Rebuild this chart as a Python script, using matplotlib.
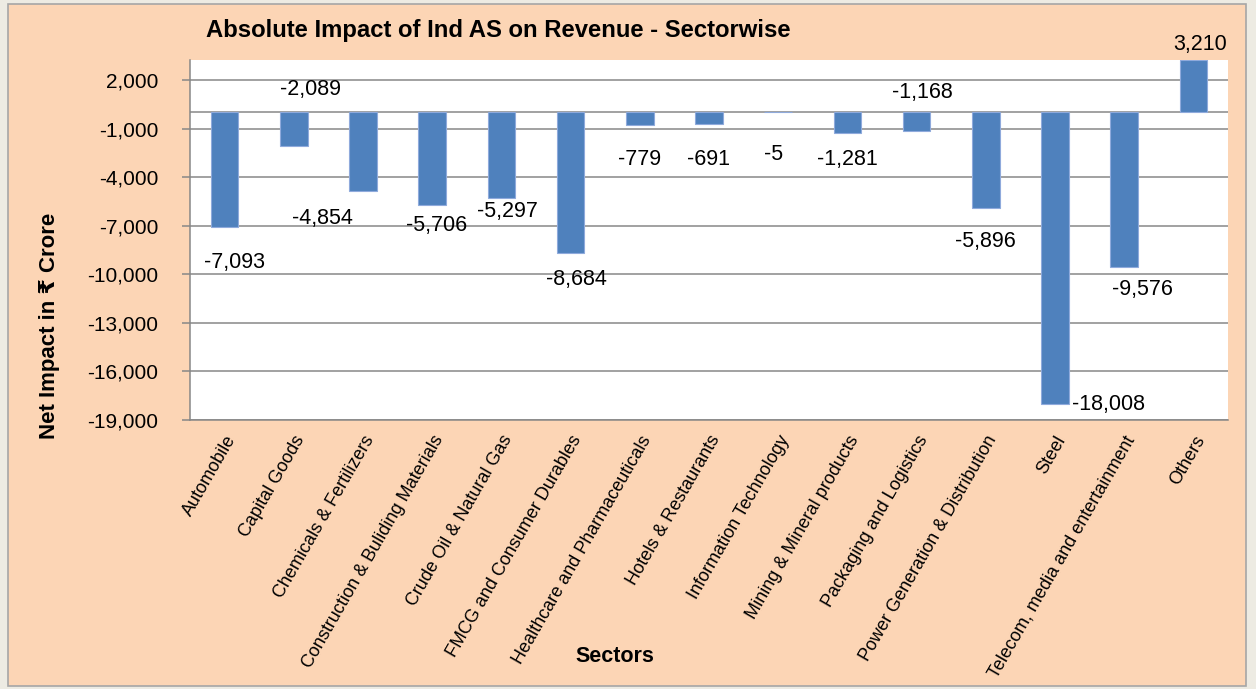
import numpy as np
import matplotlib
matplotlib.use("Agg")
import matplotlib.pyplot as plt
from matplotlib.patches import Rectangle
from matplotlib.ticker import FuncFormatter

plt.rcParams['font.family'] = ['Liberation Sans', 'DejaVu Sans']

sectors = ["Automobile", "Capital Goods", "Chemicals & Fertilizers",
           "Construction & Buliding Materials", "Crude Oil & Natural Gas",
           "FMCG and Consumer Durables", "Healthcare and Pharmaceuticals",
           "Hotels & Restaurants", "Information Technology",
           "Mining & Mineral products", "Packaging and Logistics",
           "Power Generation & Distribution", "Steel",
           "Telecom, media and entertainment", "Others"]
impact = [-7093, -2089, -4854, -5706, -5297, -8684, -779, -691, -5,
          -1281, -1168, -5896, -18008, -9576, 3210]

# data-label placement (style only): x offset in category units, y in value units
label_dx = [0.14, 0.24, -0.58, 0.06, 0.09, 0.09, 0.0, 0.0, -0.07, 0.0,
            0.09, 0.0, 0.77, 0.27, 0.1]
label_y = [-9265, 1420, -6548, -6980, -6115, -10315, -2903, -2903, -2594,
           -2903, 1235, -7968, -18036, -10933, 4200]

yticks = list(range(-19000, 2001, 3000))

W, H = 1256, 689
fig = plt.figure(figsize=(W / 100, H / 100), dpi=100)
fig.patch.set_facecolor('#EDEBE3')
fig.patches.append(Rectangle((8 / W, 3 / H), 1238 / W, 682 / H, transform=fig.transFigure,
                             facecolor='#FCD5B5', edgecolor='#A6A6A6', linewidth=1.2, zorder=-10))

ax = fig.add_axes([190 / W, 1 - 420 / H, 1038 / W, 360 / H])
ax.set_zorder(1)
ax.set_facecolor('white')
x = np.arange(len(sectors))
grid_c = '#878787'
for t in yticks:
    ax.axhline(t, color=grid_c, lw=1.1, zorder=1)
ax.axhline(0, color=grid_c, lw=1.1, zorder=1)
ax.bar(x, impact, width=0.4, color='#4F81BD', edgecolor='#8FAADC', linewidth=0.8, zorder=3)

ax.set_xlim(-0.5, len(sectors) - 0.5)
ax.set_ylim(-19000, 3235)
ax.set_yticks(yticks)
ax.yaxis.set_major_formatter(FuncFormatter(lambda v, p: f"{int(v):,}"))
ax.tick_params(axis='y', length=6, width=1.1, color=grid_c, pad=17, labelsize=15)
ax.set_xticks(x)
ax.set_xticklabels(sectors, rotation=60, ha='right', rotation_mode='anchor', fontsize=13)
ax.tick_params(axis='x', length=0, pad=9)
for s in ['top', 'right']:
    ax.spines[s].set_visible(False)
for s in ['left', 'bottom']:
    ax.spines[s].set_color(grid_c)
    ax.spines[s].set_linewidth(1.1)

for i, v in enumerate(impact):
    ax.text(i + label_dx[i], label_y[i], f"{v:,}", ha='center', va='center',
            fontsize=15.5, color='black', clip_on=False, zorder=5)

fig.text(498.5 / W, 1 - 30 / H, "Absolute Impact of Ind AS on Revenue - Sectorwise",
         ha='center', va='center', fontsize=17.2, fontweight='bold')
fig.text(50 / W, 1 - 326 / H, "Net Impact in ₹ Crore", rotation=90,
         ha='center', va='center', fontsize=16, fontweight='bold')
fig.text(615 / W, 1 - 657 / H, "Sectors", ha='center', va='center',
         fontsize=15.5, fontweight='bold')

fig.savefig("out.png", dpi=100, facecolor=fig.get_facecolor())
